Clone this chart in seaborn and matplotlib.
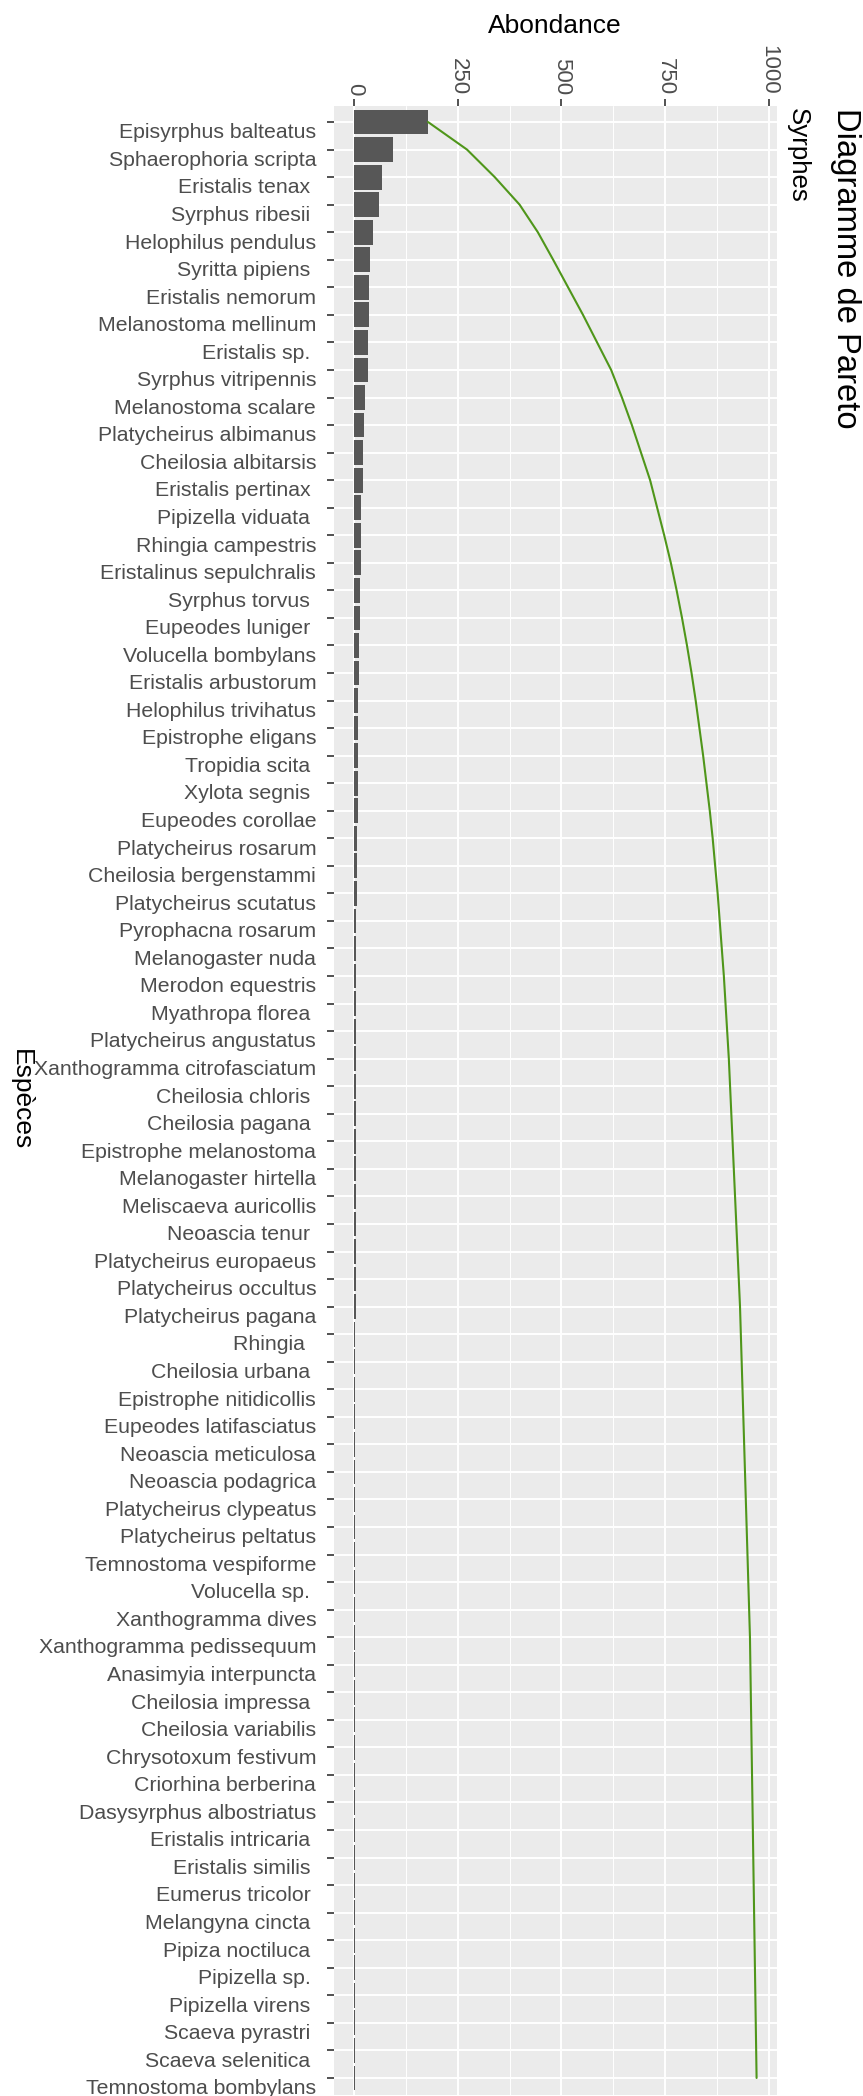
import numpy as np
import pandas as pd
import matplotlib
matplotlib.use("Agg")
import matplotlib.pyplot as plt
from matplotlib.transforms import ScaledTranslation
import seaborn as sns

species = [
    "Episyrphus balteatus", "Sphaerophoria scripta", "Eristalis tenax ", "Syrphus ribesii ",
    "Helophilus pendulus", "Syritta pipiens ", "Eristalis nemorum", "Melanostoma mellinum",
    "Eristalis sp. ", "Syrphus vitripennis", "Melanostoma scalare", "Platycheirus albimanus",
    "Cheilosia albitarsis", "Eristalis pertinax ", "Pipizella viduata ", "Rhingia campestris",
    "Eristalinus sepulchralis", "Syrphus torvus ", "Eupeodes luniger ", "Volucella bombylans",
    "Eristalis arbustorum", "Helophilus trivihatus", "Epistrophe eligans", "Tropidia scita ",
    "Xylota segnis ", "Eupeodes corollae", "Platycheirus rosarum", "Cheilosia bergenstammi",
    "Platycheirus scutatus", "Pyrophacna rosarum", "Melanogaster nuda", "Merodon equestris",
    "Myathropa florea ", "Platycheirus angustatus", "Xanthogramma citrofasciatum", "Cheilosia chloris ",
    "Cheilosia pagana ", "Epistrophe melanostoma", "Melanogaster hirtella", "Meliscaeva auricollis",
    "Neoascia tenur ", "Platycheirus europaeus", "Platycheirus occultus", "Platycheirus pagana",
    "Rhingia  ", "Cheilosia urbana ", "Epistrophe nitidicollis", "Eupeodes latifasciatus",
    "Neoascia meticulosa", "Neoascia podagrica", "Platycheirus clypeatus", "Platycheirus peltatus",
    "Temnostoma vespiforme", "Volucella sp. ", "Xanthogramma dives", "Xanthogramma pedissequum",
    "Anasimyia interpuncta", "Cheilosia impressa ", "Cheilosia variabilis", "Chrysotoxum festivum",
    "Criorhina berberina", "Dasysyrphus albostriatus", "Eristalis intricaria ", "Eristalis similis ",
    "Eumerus tricolor ", "Melangyna cincta ", "Pipiza noctiluca ", "Pipizella sp. ",
    "Pipizella virens ", "Scaeva pyrastri ", "Scaeva selenitica ", "Temnostoma bombylans",
]

abondance = [
    178, 94, 67, 60, 44, 37, 36, 36, 34, 34,
    26, 24, 22, 22, 17, 17, 16, 14, 13, 12,
    11, 10, 9, 9, 8, 8, 7, 6, 6, 5,
    5, 5, 4, 4, 4, 3, 3, 3, 3, 3,
    3, 3, 3, 3, 2, 2, 2, 2, 2, 2,
    2, 2, 2, 2, 2, 2, 1, 1, 1, 1,
    1, 1, 1, 1, 1, 1, 1, 1, 1, 1,
    1, 1,
]

x_ticks = [0, 250, 500, 750, 1000]
x_tick_labels = ["0", "250", "500", "750", "1000"]
x_minor = [125, 375, 625, 875]

title = "Diagramme de Pareto"
subtitle = "Syrphes"
xlabel = "Abondance"
ylabel = "Espèces"

sns.set_theme(style="darkgrid")
plt.rcParams["font.family"] = ["Liberation Sans", "DejaVu Sans"]

W, H = 863, 2096
fig = plt.figure(figsize=(W / 100, H / 100), dpi=100)
ax_left, ax_right = 334.2, 776.7
ax_top, ax_bot = 105.5, 2094.5
ax = fig.add_axes([ax_left / W, 1 - ax_bot / H, (ax_right - ax_left) / W, (ax_bot - ax_top) / H])

df = pd.DataFrame({"espece": species, "abondance": abondance})
sns.barplot(data=df, x="abondance", y="espece", orient="h", color="#575757",
            saturation=1, width=0.9, errorbar=None, linewidth=0, ax=ax)

cum = np.cumsum(abondance)
ax.plot(cum, np.arange(len(species)), color="#4f961a", lw=1.5, zorder=4)

total = cum[-1]
ax.set_xlim(-0.05 * total, 1.05 * total)
ax.set_ylim(len(species) - 0.4, -0.6)

ax.set_facecolor("#EBEBEB")
ax.set_axisbelow(True)
for s in ax.spines.values():
    s.set_visible(False)

ax.set_xticks(x_ticks)
ax.set_xticklabels(x_tick_labels)
ax.set_xticks(x_minor, minor=True)
ax.grid(True, which="major", color="white", lw=1.4)
ax.grid(True, which="minor", axis="x", color="white", lw=0.7)

ax.tick_params(axis="x", which="major", top=True, bottom=False, labeltop=True, labelbottom=False,
               length=5, width=1.2, color="#333333", pad=2.5, labelsize=16,
               labelcolor="#4D4D4D", labelrotation=-90)
ax.tick_params(axis="x", which="minor", top=False, bottom=False, length=0)
ax.tick_params(axis="y", left=True, length=5, width=1.2, color="#333333", pad=8,
               labelsize=15.3, labelcolor="#4D4D4D")
ax.set_xlabel("")
ax.set_ylabel("")

off = ScaledTranslation(0, -8.8 / 100, fig.dpi_scale_trans)
for lab in ax.get_yticklabels():
    lab.set_transform(lab.get_transform() + off)

fig.text(555 / W, 1 - 26 / H, xlabel, ha="center", va="center", fontsize=19, color="black")
fig.text(21 / W, 1 - 1100 / H, ylabel, ha="center", va="center", fontsize=19,
         rotation=-90, color="black")
fig.text(845 / W, 1 - 108 / H, title, ha="center", va="top", fontsize=23.6,
         rotation=-90, color="black")
fig.text(798 / W, 1 - 108 / H, subtitle, ha="center", va="top", fontsize=18.6,
         rotation=-90, color="black")

fig.savefig("out.png", dpi=100, facecolor="white")
